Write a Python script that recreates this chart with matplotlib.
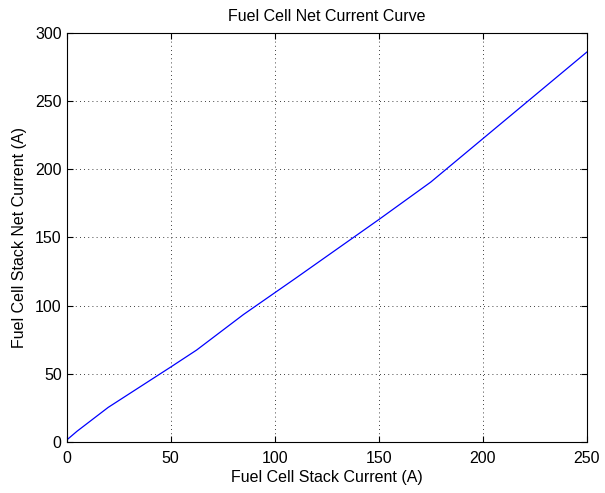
import numpy as np
import matplotlib
matplotlib.use('Agg')
import matplotlib.pyplot as plt

# Datos
stack_current = [0, 5, 20, 50, 62.5, 85, 110, 150, 175, 250]
net_current = [1.5, 8, 25.5, 55, 67.5, 93.5, 120, 163, 190.5, 285.7]

plt.rcParams['font.family'] = ['Liberation Sans', 'DejaVu Sans']

fig = plt.figure(figsize=(6.05, 4.93), dpi=100)
ax = fig.add_axes([0.110, 0.103, 0.860, 0.831])

ax.plot(stack_current, net_current, color='blue', linewidth=0.9)

ax.set_xlim(0, 250)
ax.set_ylim(0, 300)
ax.set_xticks(np.arange(0, 251, 50))
ax.set_yticks(np.arange(0, 301, 50))
ax.tick_params(direction='in', top=True, right=True, labelsize=11.5, length=4, width=0.8)
ax.tick_params(axis='x', pad=6.5)
ax.tick_params(axis='y', pad=3.5)
ax.grid(True, linestyle=(0, (1, 4)), color='black', linewidth=0.6)
for s in ax.spines.values():
    s.set_linewidth(0.8)

ax.set_title('Fuel Cell Net Current Curve', fontsize=11.5, pad=8)
ax.set_xlabel('Fuel Cell Stack Current (A)', fontsize=11.5, labelpad=3)
ax.set_ylabel('Fuel Cell Stack Net Current (A)', fontsize=11.5, labelpad=6)

fig.savefig('out.png', dpi=100)
